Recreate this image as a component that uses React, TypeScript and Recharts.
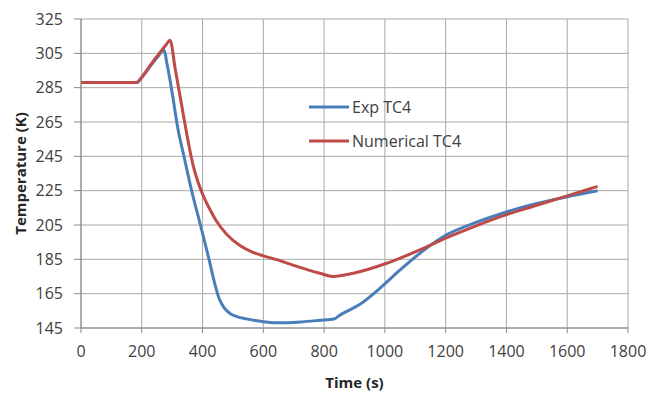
import React from "react";
import { CartesianGrid, Label, Legend, Line, LineChart, XAxis, YAxis } from "recharts";

// time (s) and temperature (K)
const expTime = [0, 183, 200, 230, 255, 272, 285, 300, 318, 340, 364, 393, 420, 440, 455, 470, 490, 515, 545, 600, 660, 720, 786, 833, 852, 918, 984, 1050, 1115, 1200, 1300, 1400, 1500, 1600, 1700];
const expTemp = [288, 288, 291, 298, 303.5, 307, 297, 282, 262, 244, 225, 205, 186, 171, 162, 157, 153.5, 151.5, 150.3, 148.7, 148, 148.5, 149.5, 150.3, 152.5, 158.8, 168.2, 178.8, 188.5, 199, 206.5, 212.6, 217.5, 221.5, 225];

const numTime = [0, 183, 200, 230, 260, 280, 293, 310, 325, 340, 355, 370, 385, 400, 420, 445, 480, 523, 560, 600, 650, 700, 786, 830, 896, 1006, 1115, 1200, 1300, 1400, 1500, 1600, 1700];
const numTemp = [288, 288, 291, 298.5, 305.5, 310, 312.6, 296, 281, 266, 251.5, 239, 230, 223, 215.5, 207.5, 199.5, 193, 189.5, 187, 184.5, 181.5, 176.9, 175, 176.9, 182.7, 190.5, 197.3, 204.5, 211, 216.5, 222, 227.5];

const seriesNames = ["Exp TC4", "Numerical TC4"];
const seriesColors = ["#4a7ebb", "#be4b48"];

const xTicks = [0, 200, 400, 600, 800, 1000, 1200, 1400, 1600, 1800];
const yTicks = [145, 165, 185, 205, 225, 245, 265, 285, 305, 325];

const expData = expTime.map((t, i) => ({ t, v: expTemp[i] }));
const numData = numTime.map((t, i) => ({ t, v: numTemp[i] }));

const font = "'Open Sans', sans-serif";
const tickStyle = { fontFamily: font, fontSize: 16, fill: "#404040" };

const renderLegend = () => (
    <div style={{ fontFamily: font, fontSize: 16, color: "#404040" }}>
        {seriesNames.map((name, i) => (
            <div key={name} style={{ display: "flex", alignItems: "center", height: 34 }}>
                <svg width={42} height={6}>
                    <line x1={0} y1={3} x2={40} y2={3} stroke={seriesColors[i]} strokeWidth={3} />
                </svg>
                <span style={{ marginLeft: 1, whiteSpace: "nowrap" }}>{name}</span>
            </div>
        ))}
    </div>
);

const renderYLabel = (props: any) => {
    const vb = props.viewBox;
    const cx = 20;
    const cy = vb.y + vb.height / 2;
    return (
        <text
            x={cx}
            y={cy}
            transform={`rotate(-90, ${cx}, ${cy})`}
            textAnchor="middle"
            dominantBaseline="central"
            style={{ fontFamily: font, fontSize: 15, fontWeight: 700, fill: "#262626" }}
        >
            Temperature (K)
        </text>
    );
};

const App: React.FC = () => {
    return (
        <div style={{ position: "absolute", left: 0, top: 0, width: 651, height: 393, background: "#fff" }}>
            <LineChart width={651} height={393} margin={{ top: 19, right: 23, left: 0, bottom: 0 }}>
                <CartesianGrid stroke="#a8a8a8" />
                <XAxis
                    type="number"
                    dataKey="t"
                    domain={[0, 1800]}
                    ticks={xTicks}
                    interval={0}
                    height={65}
                    stroke="#888"
                    tickSize={5}
                    tickMargin={13}
                    tick={tickStyle}
                >
                    <Label
                        value="Time (s)"
                        position="insideBottom"
                        offset={5}
                        style={{ fontFamily: font, fontSize: 15, fontWeight: 700, fill: "#262626" }}
                    />
                </XAxis>
                <YAxis
                    type="number"
                    domain={[145, 325]}
                    ticks={yTicks}
                    interval={0}
                    width={81}
                    stroke="#888"
                    tickSize={7}
                    tickMargin={11}
                    tick={tickStyle}
                >
                    <Label content={renderYLabel} />
                </YAxis>
                <Legend
                    layout="vertical"
                    align="center"
                    verticalAlign="middle"
                    content={renderLegend}
                    wrapperStyle={{ left: 309, top: 90, width: 220 }}
                />
                <Line
                    data={expData}
                    dataKey="v"
                    name={seriesNames[0]}
                    type="monotone"
                    stroke={seriesColors[0]}
                    strokeWidth={3}
                    dot={false}
                    isAnimationActive={false}
                />
                <Line
                    data={numData}
                    dataKey="v"
                    name={seriesNames[1]}
                    type="monotone"
                    stroke={seriesColors[1]}
                    strokeWidth={3}
                    dot={false}
                    isAnimationActive={false}
                />
            </LineChart>
        </div>
    );
};

export default App;
